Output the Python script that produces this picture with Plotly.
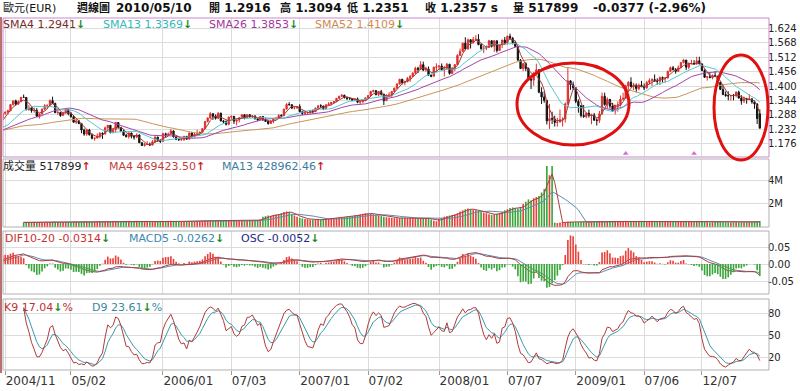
import numpy as np
import pandas as pd
import plotly.graph_objects as go

# ---------------- data ----------------
# weekly closes before the displayed range (Nov 2003 - Oct 2004), used for the moving averages / MACD
pre_close = [1.1480, 1.1670, 1.1780, 1.1990, 1.2200, 1.2290, 1.2380, 1.2450,
             1.2600, 1.2770, 1.2380, 1.2630, 1.2480, 1.2660, 1.2760, 1.2550, 1.2470,
             1.2240, 1.2280, 1.2390, 1.2170, 1.2080, 1.2140, 1.1970, 1.1850, 1.1970,
             1.1830, 1.1870, 1.2010, 1.2200, 1.2280, 1.2120, 1.2100, 1.2140,
             1.2320, 1.2390, 1.2410, 1.2190, 1.2030, 1.2300, 1.2380, 1.2320, 1.2050,
             1.2080, 1.2250, 1.2170, 1.2260, 1.2410, 1.2420, 1.2410, 1.2540, 1.2750]

first_week = "2004-11-01"

week_open = [
    1.2750, 1.2935, 1.2978, 1.3035, 1.3275, 1.3420, 1.3290, 1.3390, 1.3560,
    1.3554, 1.3080, 1.3140, 1.3040, 1.3050, 1.2820, 1.2920, 1.3100, 1.3240, 1.3250, 1.3430, 1.3320,
    1.2960, 1.2970, 1.2850, 1.2960, 1.3080, 1.2920, 1.2800, 1.2590, 1.2640, 1.2540, 1.2285, 1.2130,
    1.2290, 1.2100, 1.1960, 1.1970, 1.2050, 1.2160, 1.2130, 1.2370, 1.2470, 1.2190, 1.2300, 1.2580,
    1.2390, 1.2230, 1.2080, 1.2030, 1.2170, 1.2040, 1.2010, 1.2090, 1.1790, 1.1680, 1.1720, 1.1730,
    1.1700, 1.1830, 1.2010, 1.1880,
    1.1840, 1.2140, 1.2110, 1.2120, 1.2250, 1.2020, 1.1920, 1.1910, 1.1920, 1.2040, 1.1930, 1.2170,
    1.2030, 1.2120, 1.2150, 1.2200, 1.2340, 1.2620, 1.2750, 1.2920, 1.2820, 1.2740, 1.2940, 1.2640,
    1.2610, 1.2510, 1.2790, 1.2820, 1.2630, 1.2680, 1.2760, 1.2880, 1.2760, 1.2880, 1.2800, 1.2830,
    1.2720, 1.2680, 1.2810, 1.2680, 1.2620, 1.2540, 1.2640, 1.2730, 1.2750, 1.2850, 1.2840, 1.3100,
    1.3280, 1.3270, 1.3140, 1.3150,
    1.3200, 1.3000, 1.2930, 1.2960, 1.2970, 1.3030, 1.3000, 1.3140, 1.3230, 1.3220, 1.3120, 1.3270,
    1.3300, 1.3360, 1.3390, 1.3520, 1.3600, 1.3640, 1.3540, 1.3520, 1.3510, 1.3440, 1.3500, 1.3370,
    1.3390, 1.3430, 1.3540, 1.3630, 1.3790, 1.3820, 1.3660, 1.3780, 1.3680, 1.3430, 1.3640, 1.3650,
    1.3790, 1.3920, 1.4080, 1.4260, 1.4130, 1.4170, 1.4300, 1.4380, 1.4500, 1.4690, 1.4650, 1.4830,
    1.4620, 1.4660, 1.4420, 1.4380,
    1.4730, 1.4750, 1.4780, 1.4630, 1.4670, 1.4850, 1.4490, 1.4670, 1.4830, 1.5190, 1.5350, 1.5670,
    1.5440, 1.5800, 1.5700, 1.5810, 1.5820, 1.5610, 1.5450, 1.5470, 1.5500, 1.5760, 1.5550, 1.5760,
    1.5380, 1.5610, 1.5790, 1.5690, 1.5940, 1.5860, 1.5690, 1.5540, 1.5010, 1.4680, 1.4870, 1.4680,
    1.4270, 1.4230, 1.4510, 1.4630, 1.3760, 1.3570, 1.3440, 1.2640, 1.2730, 1.2710, 1.2580, 1.2600,
    1.2690, 1.2710, 1.3300, 1.4200, 1.4050,
    1.3930, 1.3400, 1.3230, 1.2850, 1.2810, 1.2940, 1.2850, 1.2870, 1.2670, 1.2660, 1.2920, 1.3600,
    1.3280, 1.3480, 1.3220, 1.3030, 1.3250, 1.3270, 1.3490, 1.3520, 1.4000, 1.4150, 1.3970, 1.4030,
    1.3900, 1.4030, 1.3970, 1.3930, 1.4140, 1.4210, 1.4250, 1.4190, 1.4185, 1.4330, 1.4300, 1.4310,
    1.4570, 1.4710, 1.4640, 1.4570, 1.4710, 1.4910, 1.5010, 1.4730, 1.4860, 1.4880, 1.4860, 1.4980,
    1.4860, 1.4600, 1.4340, 1.4360,
    1.4330, 1.4410, 1.4380, 1.4140, 1.3865, 1.3670, 1.3625, 1.3615, 1.3630, 1.3625, 1.3760, 1.3530,
    1.3415, 1.3500, 1.3475, 1.3500, 1.3380, 1.3295, 1.2916]

week_high = [
    1.2980, 1.3000, 1.3075, 1.3295, 1.3430, 1.3470, 1.3440, 1.3570, 1.3667,
    1.3570, 1.3260, 1.3170, 1.3160, 1.3140, 1.2925, 1.3120, 1.3290, 1.3270, 1.3480, 1.3585, 1.3350,
    1.3080, 1.2990, 1.3000, 1.3100, 1.3100, 1.2990, 1.2870, 1.2710, 1.2670, 1.2560, 1.2340, 1.2320,
    1.2330, 1.2160, 1.2000, 1.2150, 1.2200, 1.2190, 1.2420, 1.2480, 1.2480, 1.2340, 1.2590, 1.2585,
    1.2400, 1.2290, 1.2130, 1.2190, 1.2180, 1.2080, 1.2160, 1.2110, 1.1820, 1.1780, 1.1850, 1.1800,
    1.1890, 1.2040, 1.2020, 1.1920,
    1.2180, 1.2180, 1.2190, 1.2320, 1.2260, 1.2040, 1.1960, 1.1970, 1.2050, 1.2050, 1.2190, 1.2200,
    1.2180, 1.2300, 1.2230, 1.2360, 1.2640, 1.2780, 1.2980, 1.2940, 1.2890, 1.2980, 1.2960, 1.2680,
    1.2660, 1.2800, 1.2840, 1.2830, 1.2700, 1.2790, 1.2890, 1.2900, 1.2900, 1.2900, 1.2870, 1.2860,
    1.2760, 1.2830, 1.2820, 1.2750, 1.2630, 1.2660, 1.2760, 1.2780, 1.2900, 1.2900, 1.3110, 1.3330,
    1.3370, 1.3290, 1.3200, 1.3220,
    1.3290, 1.3040, 1.3000, 1.3000, 1.3060, 1.3080, 1.3160, 1.3240, 1.3290, 1.3230, 1.3280, 1.3370,
    1.3380, 1.3410, 1.3530, 1.3620, 1.3680, 1.3660, 1.3580, 1.3570, 1.3520, 1.3510, 1.3550, 1.3400,
    1.3450, 1.3550, 1.3640, 1.3800, 1.3850, 1.3840, 1.3800, 1.3850, 1.3700, 1.3670, 1.3760, 1.3800,
    1.3930, 1.4100, 1.4280, 1.4280, 1.4210, 1.4350, 1.4420, 1.4530, 1.4750, 1.4750, 1.4970, 1.4950,
    1.4750, 1.4760, 1.4450, 1.4750,
    1.4880, 1.4800, 1.4880, 1.4780, 1.4900, 1.4860, 1.4740, 1.4850, 1.5240, 1.5460, 1.5680, 1.5900,
    1.5850, 1.5830, 1.5910, 1.5980, 1.6020, 1.5660, 1.5560, 1.5580, 1.5800, 1.5790, 1.5790, 1.5770,
    1.5620, 1.5800, 1.5910, 1.5960, 1.6040, 1.5910, 1.5760, 1.5570, 1.5050, 1.4900, 1.4930, 1.4720,
    1.4330, 1.4530, 1.4870, 1.4650, 1.3950, 1.3800, 1.3450, 1.3300, 1.3000, 1.2840, 1.2760, 1.3080,
    1.2780, 1.3360, 1.4720, 1.4220, 1.4170,
    1.3950, 1.3480, 1.3260, 1.3260, 1.2960, 1.3080, 1.2920, 1.2950, 1.2740, 1.3030, 1.3740, 1.3740,
    1.3560, 1.3490, 1.3340, 1.3260, 1.3400, 1.3630, 1.3740, 1.4050, 1.4180, 1.4340, 1.4120, 1.4100,
    1.4100, 1.4200, 1.4100, 1.4200, 1.4300, 1.4300, 1.4450, 1.4300, 1.4370, 1.4370, 1.4350, 1.4600,
    1.4760, 1.4780, 1.4700, 1.4800, 1.4930, 1.5060, 1.5020, 1.4920, 1.5020, 1.5010, 1.5140, 1.5140,
    1.4880, 1.4650, 1.4380, 1.4510,
    1.4450, 1.4580, 1.4400, 1.4170, 1.4030, 1.3790, 1.3790, 1.3650, 1.3690, 1.3790, 1.3820, 1.3640,
    1.3580, 1.3540, 1.3690, 1.3520, 1.3440, 1.3330, 1.3094]

week_low = [
    1.2720, 1.2880, 1.2900, 1.3020, 1.3240, 1.3230, 1.3270, 1.3370, 1.3540,
    1.3050, 1.3040, 1.2960, 1.2960, 1.2810, 1.2730, 1.2880, 1.3050, 1.3100, 1.3230, 1.3300, 1.2955,
    1.2880, 1.2800, 1.2840, 1.2920, 1.2860, 1.2770, 1.2580, 1.2520, 1.2510, 1.2160, 1.2060, 1.2060,
    1.2070, 1.1920, 1.1870, 1.1960, 1.1960, 1.1940, 1.2120, 1.2300, 1.2150, 1.2150, 1.2200, 1.2340,
    1.2200, 1.2050, 1.1990, 1.1950, 1.1960, 1.1910, 1.1970, 1.1780, 1.1670, 1.1640, 1.1700, 1.1660,
    1.1690, 1.1790, 1.1820, 1.1780,
    1.1830, 1.2000, 1.2050, 1.2110, 1.1990, 1.1890, 1.1860, 1.1860, 1.1860, 1.1900, 1.1920, 1.1990,
    1.1990, 1.2070, 1.2080, 1.2190, 1.2320, 1.2580, 1.2730, 1.2680, 1.2690, 1.2730, 1.2620, 1.2520,
    1.2460, 1.2470, 1.2720, 1.2520, 1.2470, 1.2580, 1.2740, 1.2700, 1.2750, 1.2770, 1.2760, 1.2700,
    1.2630, 1.2650, 1.2640, 1.2600, 1.2490, 1.2520, 1.2550, 1.2680, 1.2710, 1.2790, 1.2830, 1.3100,
    1.3240, 1.3100, 1.3090, 1.3110,
    1.2980, 1.2870, 1.2870, 1.2880, 1.2900, 1.2930, 1.2980, 1.3100, 1.3150, 1.3060, 1.3110, 1.3260,
    1.3250, 1.3310, 1.3370, 1.3500, 1.3570, 1.3520, 1.3450, 1.3460, 1.3410, 1.3400, 1.3330, 1.3270,
    1.3330, 1.3410, 1.3510, 1.3600, 1.3750, 1.3640, 1.3600, 1.3630, 1.3260, 1.3410, 1.3570, 1.3580,
    1.3780, 1.3870, 1.4060, 1.4060, 1.4030, 1.4140, 1.4160, 1.4360, 1.4490, 1.4500, 1.4620, 1.4580,
    1.4560, 1.4410, 1.4340, 1.4370,
    1.4560, 1.4620, 1.4580, 1.4370, 1.4630, 1.4440, 1.4480, 1.4580, 1.4820, 1.5180, 1.5330, 1.5390,
    1.5420, 1.5460, 1.5650, 1.5760, 1.5590, 1.5420, 1.5280, 1.5400, 1.5490, 1.5500, 1.5330, 1.5300,
    1.5370, 1.5480, 1.5640, 1.5620, 1.5840, 1.5620, 1.5510, 1.4980, 1.4660, 1.4580, 1.4580, 1.4230,
    1.3880, 1.4010, 1.4490, 1.3720, 1.3300, 1.3350, 1.2500, 1.2330, 1.2520, 1.2420, 1.2420, 1.2580,
    1.2420, 1.2580, 1.3260, 1.3850, 1.3850,
    1.3330, 1.2960, 1.2770, 1.2760, 1.2740, 1.2770, 1.2510, 1.2640, 1.2460, 1.2560, 1.2880, 1.3230,
    1.3110, 1.3120, 1.3010, 1.2890, 1.3000, 1.3200, 1.3450, 1.3510, 1.3780, 1.3960, 1.3840, 1.3750,
    1.3830, 1.3960, 1.3840, 1.3890, 1.4060, 1.4000, 1.4170, 1.4050, 1.4040, 1.4140, 1.4130, 1.4300,
    1.4540, 1.4600, 1.4480, 1.4550, 1.4700, 1.4880, 1.4620, 1.4650, 1.4850, 1.4830, 1.4830, 1.4850,
    1.4580, 1.4320, 1.4210, 1.4300,
    1.4260, 1.4350, 1.4030, 1.3860, 1.3640, 1.3580, 1.3440, 1.3430, 1.3440, 1.3560, 1.3510, 1.3270,
    1.3340, 1.3310, 1.3450, 1.3310, 1.3110, 1.2520, 1.2351]

week_close = [
    1.2935, 1.2978, 1.3035, 1.3275, 1.3420, 1.3290, 1.3390, 1.3560, 1.3554,
    1.3080, 1.3140, 1.3040, 1.3050, 1.2820, 1.2920, 1.3100, 1.3240, 1.3250, 1.3430, 1.3320, 1.2960,
    1.2970, 1.2850, 1.2960, 1.3080, 1.2920, 1.2800, 1.2590, 1.2640, 1.2540, 1.2285, 1.2130, 1.2290,
    1.2100, 1.1960, 1.1970, 1.2050, 1.2160, 1.2130, 1.2370, 1.2470, 1.2190, 1.2300, 1.2580, 1.2390,
    1.2230, 1.2080, 1.2030, 1.2170, 1.2040, 1.2010, 1.2090, 1.1790, 1.1680, 1.1720, 1.1730, 1.1700,
    1.1830, 1.2010, 1.1880, 1.1840,
    1.2140, 1.2110, 1.2120, 1.2250, 1.2020, 1.1920, 1.1910, 1.1920, 1.2040, 1.1930, 1.2170, 1.2030,
    1.2120, 1.2150, 1.2200, 1.2340, 1.2620, 1.2750, 1.2920, 1.2820, 1.2740, 1.2940, 1.2640, 1.2610,
    1.2510, 1.2790, 1.2820, 1.2630, 1.2680, 1.2760, 1.2880, 1.2760, 1.2880, 1.2800, 1.2830, 1.2720,
    1.2680, 1.2810, 1.2680, 1.2620, 1.2540, 1.2640, 1.2730, 1.2750, 1.2850, 1.2840, 1.3100, 1.3280,
    1.3270, 1.3140, 1.3150, 1.3200,
    1.3000, 1.2930, 1.2960, 1.2970, 1.3030, 1.3000, 1.3140, 1.3230, 1.3220, 1.3120, 1.3270, 1.3300,
    1.3360, 1.3390, 1.3520, 1.3600, 1.3640, 1.3540, 1.3520, 1.3510, 1.3440, 1.3500, 1.3370, 1.3390,
    1.3430, 1.3540, 1.3630, 1.3790, 1.3820, 1.3660, 1.3780, 1.3680, 1.3430, 1.3640, 1.3650, 1.3790,
    1.3920, 1.4080, 1.4260, 1.4130, 1.4170, 1.4300, 1.4380, 1.4500, 1.4690, 1.4650, 1.4830, 1.4620,
    1.4660, 1.4420, 1.4380, 1.4730,
    1.4750, 1.4780, 1.4630, 1.4670, 1.4850, 1.4490, 1.4670, 1.4830, 1.5190, 1.5350, 1.5670, 1.5440,
    1.5800, 1.5700, 1.5810, 1.5820, 1.5610, 1.5450, 1.5470, 1.5500, 1.5760, 1.5550, 1.5760, 1.5380,
    1.5610, 1.5790, 1.5690, 1.5940, 1.5860, 1.5690, 1.5540, 1.5010, 1.4680, 1.4870, 1.4680, 1.4270,
    1.4230, 1.4510, 1.4630, 1.3760, 1.3570, 1.3440, 1.2640, 1.2730, 1.2710, 1.2580, 1.2600, 1.2690,
    1.2710, 1.3300, 1.4200, 1.4050, 1.3930,
    1.3400, 1.3230, 1.2850, 1.2810, 1.2940, 1.2850, 1.2870, 1.2670, 1.2660, 1.2920, 1.3600, 1.3280,
    1.3480, 1.3220, 1.3030, 1.3250, 1.3270, 1.3490, 1.3520, 1.4000, 1.4150, 1.3970, 1.4030, 1.3900,
    1.4030, 1.3970, 1.3930, 1.4140, 1.4210, 1.4250, 1.4190, 1.4185, 1.4330, 1.4300, 1.4310, 1.4570,
    1.4710, 1.4640, 1.4570, 1.4710, 1.4910, 1.5010, 1.4730, 1.4860, 1.4880, 1.4860, 1.4980, 1.4860,
    1.4600, 1.4340, 1.4360, 1.4330,
    1.4410, 1.4380, 1.4140, 1.3865, 1.3670, 1.3625, 1.3615, 1.3630, 1.3625, 1.3760, 1.3530, 1.3415,
    1.3500, 1.3475, 1.3500, 1.3380, 1.3295, 1.2734, 1.2357]

# weekly volume in thousands (no volume data for the first 8 weeks)
volume_k = [
    None, None, None, None, None, None, None, None,
    400, 420, 410, 395, 405, 430, 415, 400, 425, 440, 410, 450, 460,
    430, 415, 405, 420, 435, 445, 460, 470, 455, 480, 490, 470,
    465, 450, 440, 455, 470, 480, 460, 445, 470, 490, 475, 460,
    450, 440, 455, 465, 470, 460, 480, 495, 505, 490, 470, 460,
    455, 470, 450, 440,
    460, 470, 480, 475, 490, 500, 485, 470, 480, 495, 505, 490,
    500, 510, 520, 540, 560, 550, 530, 520, 515, 530, 540, 525,
    510, 520, 530, 540, 545, 530, 520, 510, 525, 540, 560, 580, 600,
    650, 900, 950, 1000, 980, 1050, 1080, 1100, 1200, 1300, 1350, 1300, 1150, 1000, 900,
    800, 750, 700, 680, 650, 640, 620, 600, 650, 700, 720, 700, 740,
    760, 780, 800, 820, 850, 880, 900, 950, 1000, 1050, 1100, 1150,
    1200, 1180, 1150, 1100, 1050, 1000, 950, 900, 850, 820, 800, 780, 760,
    780, 800, 790, 770, 780, 760, 750, 770, 780, 760, 740, 720, 650, 550, 500,
    700, 800, 900, 950, 1000, 1050, 1100, 1200,
    1350, 1450, 1550, 1600, 1550, 1500, 1450,
    1400, 1300, 1250, 1200, 1100, 1050, 1100, 1150, 1200, 1300,
    1450, 1550, 1650, 1700, 1650, 1600, 1700,
    2000, 2200, 2400, 2300, 2500, 2600,
    2700, 3000, 3300,
    5300, 4500, 5300,
    380, 350, 400,
    420, 430, 450, 460, 440, 430, 445, 455, 465, 470, 460, 450,
    455, 470, 480, 490, 475, 460, 470, 480, 465, 455, 460, 470,
    480, 490, 475, 465, 470, 460, 455, 465, 470, 480, 475, 470,
    465, 470, 480, 485, 475, 470, 465, 455, 460, 470, 480, 475,
    470, 460, 455, 465, 470, 460, 440, 420, 400, 410, 430, 440,
    420, 410, 405,
    400, 395, 410, 420, 405, 415, 412, 418, 423.8, 430.5, 455.2, 474.1, 517.899]

event_weeks = ["2009-05-18", "2009-11-16"]

tick_dates = ["2004-11-08", "2005-05-02", "2006-01-02", "2006-07-03", "2007-01-01", "2007-07-02",
              "2008-01-07", "2008-07-07", "2009-01-05", "2009-07-06", "2009-12-07"]
tick_labels = ["2004/11", "05/02", "2006/01", "07/03", "2007/01", "07/02",
               "2008/01", "07/07", "2009/01", "07/06", "12/07"]

price_ticks = [1.176, 1.232, 1.288, 1.344, 1.400, 1.456, 1.512, 1.568, 1.624]
vol_ticks = [2e6, 4e6]
vol_tick_labels = ["2M", "4M"]
macd_ticks = [-0.05, 0.0, 0.05]
macd_tick_labels = ["-0.05", "0.00", "0.05"]
kd_ticks = [20, 50, 80]

# ---------------- indicators ----------------
N = len(week_close)
assert all(len(a) == N for a in (week_open, week_high, week_low, volume_k)), \
    [len(a) for a in (week_open, week_high, week_low, week_close, volume_k)]
dates = pd.date_range(first_week, periods=N, freq="7D")

o = np.array(week_open); h = np.array(week_high); l = np.array(week_low); c = np.array(week_close)
full_close = pd.Series(pre_close + week_close)


def sma(n):
    return full_close.rolling(n).mean().values[-N:]


ema10 = full_close.ewm(span=10, adjust=False).mean()
ema20 = full_close.ewm(span=20, adjust=False).mean()
dif_full = ema10 - ema20
macd_full = dif_full.ewm(span=5, adjust=False).mean()
dif = dif_full.values[-N:]
macd5 = macd_full.values[-N:]
osc = dif - macd5

K = np.full(N, np.nan); D = np.full(N, np.nan)
for j in range(8, N):
    hh = h[j - 8:j + 1].max(); ll = l[j - 8:j + 1].min()
    rsv = (c[j] - ll) / (hh - ll) * 100
    if j == 8:
        K[j] = rsv; D[j] = rsv
    else:
        K[j] = K[j - 1] * 2 / 3 + rsv / 3
        D[j] = D[j - 1] * 2 / 3 + K[j] / 3

vol = pd.Series([np.nan if v is None else v * 1000 for v in volume_k])
vol_ma4 = vol.rolling(4, min_periods=1).mean()
vol_ma13 = vol.rolling(13, min_periods=1).mean()

up = c >= o
RED = "#e8403a"; GREEN = "#3aa63a"

# ---------------- figure ----------------
fig = go.Figure()

fig.add_trace(go.Candlestick(
    x=dates, open=o, high=h, low=l, close=c, xaxis="x", yaxis="y",
    increasing=dict(line=dict(color="#e0302a", width=1), fillcolor="#e0302a"),
    decreasing=dict(line=dict(color="#111111", width=1), fillcolor="#111111"),
    whiskerwidth=0, showlegend=False, hoverinfo="skip"))

for n, col in [(52, "#c99658"), (26, "#a444aa"), (13, "#55c8d0"), (4, "#a33c3c")]:
    fig.add_trace(go.Scatter(x=dates, y=sma(n), mode="lines", xaxis="x", yaxis="y",
                             line=dict(color=col, width=1), hoverinfo="skip"))

fig.add_trace(go.Scatter(x=pd.to_datetime(event_weeks), y=[1.137] * len(event_weeks),
                         mode="markers", xaxis="x", yaxis="y",
                         marker=dict(symbol="triangle-up", size=5, color="#d070d0"),
                         hoverinfo="skip"))

bar_w = 7 * 86400000 * 0.62
fig.add_trace(go.Bar(x=dates, y=vol, xaxis="x2", yaxis="y2", width=bar_w,
                     marker=dict(color=[RED if u else GREEN for u in up], line=dict(width=0)),
                     hoverinfo="skip"))
fig.add_trace(go.Scatter(x=dates, y=vol_ma13, mode="lines", xaxis="x2", yaxis="y2",
                         line=dict(color="#5b8db5", width=1), hoverinfo="skip"))
fig.add_trace(go.Scatter(x=dates, y=vol_ma4, mode="lines", xaxis="x2", yaxis="y2",
                         line=dict(color="#a84040", width=1), hoverinfo="skip"))

fig.add_trace(go.Bar(x=dates, y=osc, xaxis="x3", yaxis="y5", width=bar_w,
                     marker=dict(color=[RED if v >= 0 else GREEN for v in osc], line=dict(width=0)),
                     hoverinfo="skip"))
fig.add_trace(go.Scatter(x=dates, y=macd5, mode="lines", xaxis="x3", yaxis="y3",
                         line=dict(color="#5b8db5", width=1), hoverinfo="skip"))
fig.add_trace(go.Scatter(x=dates, y=dif, mode="lines", xaxis="x3", yaxis="y3",
                         line=dict(color="#b03a3a", width=1), hoverinfo="skip"))

fig.add_trace(go.Scatter(x=dates, y=D, mode="lines", xaxis="x4", yaxis="y4",
                         line=dict(color="#3a9aaa", width=1), hoverinfo="skip"))
fig.add_trace(go.Scatter(x=dates, y=K, mode="lines", xaxis="x4", yaxis="y4",
                         line=dict(color="#b03a3a", width=1), hoverinfo="skip"))

W, H = 800, 391


def py(p):
    return 1 - p / H


x_start = dates[0] + pd.Timedelta(days=7 * 0.15)
x_end = dates[0] + pd.Timedelta(days=7 * 291.5)
GRID = "#dcdcdc"
xdom = [3 / W, 769 / W]

xbase = dict(type="date", domain=xdom, range=[x_start, x_end], tickmode="array",
             tickvals=pd.to_datetime(tick_dates), ticktext=tick_labels, showgrid=True,
             gridcolor=GRID, gridwidth=1, zeroline=False, showline=False,
             rangeslider=dict(visible=False), fixedrange=True)

layout = dict(
    width=W, height=H, margin=dict(l=0, r=0, t=0, b=0, pad=0),
    paper_bgcolor="white", plot_bgcolor="white", showlegend=False, hovermode=False,
    font=dict(family="DejaVu Sans, Noto Sans CJK TC", size=12, color="#222222"),
    barmode="overlay",
    xaxis=dict(xbase, anchor="y", showticklabels=False),
    xaxis2=dict(xbase, anchor="y2", matches="x", showticklabels=False),
    xaxis3=dict(xbase, anchor="y3", matches="x", showticklabels=False),
    xaxis4=dict(xbase, anchor="y4", matches="x", showticklabels=True, ticks="outside",
                ticklen=4, tickcolor="#999999", ticklabelposition="outside right",
                tickfont=dict(size=12, color="#333333")),
)

ybase = dict(side="right", showgrid=True, gridcolor=GRID, zeroline=False, showline=False,
             tickmode="array", tickfont=dict(size=10, color="#222222"), fixedrange=True,
             ticklabelstandoff=-2)
layout["yaxis"] = dict(ybase, anchor="x", domain=[py(157), py(18)], range=[1.1234, 1.6649],
                       tickvals=price_ticks, ticktext=[f"{v:.3f}" for v in price_ticks])
layout["yaxis2"] = dict(ybase, anchor="x2", domain=[py(227), py(159)], range=[0, 5.91e6],
                        tickvals=vol_ticks, ticktext=vol_tick_labels)
macd_range = [-0.088, 0.097]
layout["yaxis3"] = dict(ybase, anchor="x3", domain=[py(294), py(231)], range=macd_range,
                        tickvals=macd_ticks, ticktext=macd_tick_labels)
osc_scale = 5.5
layout["yaxis5"] = dict(overlaying="y3", anchor="x3", visible=False, fixedrange=True,
                        range=[macd_range[0] / osc_scale, macd_range[1] / osc_scale])
layout["yaxis4"] = dict(ybase, anchor="x4", domain=[py(370), py(299)], range=[3, 100],
                        tickvals=kd_ticks, ticktext=[str(v) for v in kd_ticks])

# panel frames, red highlight ellipses
shapes = []


def rect(x0, y0, x1, y1, color, width=1):
    shapes.append(dict(type="rect", xref="paper", yref="paper", x0=x0 / W, x1=x1 / W,
                       y0=py(y1), y1=py(y0), line=dict(color=color, width=width), layer="above"))


rect(3, 18, 769, 157, "#cc88cc")
rect(3, 159, 769, 227, "#b0b0b0")
rect(3, 231, 769, 294, "#b0b0b0")
rect(3, 299, 769, 370, "#b0b0b0")
shapes.append(dict(type="line", xref="paper", yref="paper", x0=1 / W, x1=1 / W, y0=py(373), y1=py(17),
                   line=dict(color="#b87070", width=2)))
for (x0, y0, x1, y1) in [(517, 63, 629, 145), (714, 55, 768, 160)]:
    shapes.append(dict(type="circle", xref="paper", yref="paper", x0=x0 / W, x1=x1 / W,
                       y0=py(y1), y1=py(y0), line=dict(color="#e01010", width=3), layer="above"))
layout["shapes"] = shapes

ann = []


def txt(px, pyy, text, size=11, color="#222222"):
    ann.append(dict(xref="paper", yref="paper", x=(px - 2) / W, y=py(pyy), xanchor="left",
                    yanchor="middle", text=text, showarrow=False,
                    font=dict(size=size, color=color, family="DejaVu Sans, Noto Sans CJK TC")))


DOWN = "<b><span style='color:#1e8c1e'>↓</span></b>"
UPA = "<b><span style='color:#d02020'>↑</span></b>"


def sp(t, col):
    return f"<span style='color:{col}'>{t}</span>"


def cjk(t):
    return f"<span style='font-size:11px'>{t}</span>"


# header
txt(3, 8, cjk("歐元") + "<span style='font-size:11px'>(EUR)</span>", 12, "#111111")
txt(77, 8, "<b>" + cjk("週線圖") + "</b>", 12, "#111111")
txt(116, 8, "<b>2010/05/10</b>", 12, "#111111")
txt(209, 8, "<b>" + cjk("開") + " 1.2916</b>", 12, "#111111")
txt(280, 8, "<b>" + cjk("高") + " 1.3094</b>", 12, "#111111")
txt(347, 8, "<b>" + cjk("低") + " 1.2351</b>", 12, "#111111")
txt(425, 8, "<b>" + cjk("收") + " 1.2357 s</b>", 12, "#111111")
txt(513, 8, "<b>" + cjk("量") + " 517899</b>", 12, "#111111")
txt(593, 8, "<b>-0.0377 (-2.96%)</b>", 12, "#111111")

# panel legends
txt(3, 25, sp("SMA4 1.2941", "#7a2a2a") + DOWN)
txt(103, 25, sp("SMA13 1.3369", "#33b8bb") + DOWN)
txt(209, 25, sp("SMA26 1.3853", "#a3359a") + DOWN)
txt(315, 25, sp("SMA52 1.4109", "#cf8a50") + DOWN)

txt(3, 166, sp("成交量 517899", "#222222") + UPA)
txt(109, 166, sp("MA4 469423.50", "#c43c3c") + UPA)
txt(222, 166, sp("MA13 428962.46", "#3c7c9c") + UPA)

txt(5, 238, sp("DIF10-20 -0.0314", "#c83232") + DOWN)
txt(129, 238, sp("MACD5 -0.0262", "#3a88b0") + DOWN)
txt(241, 238, sp("OSC -0.0052", "#1c2a84") + DOWN)

txt(4, 307, sp("K9 17.04", "#c03030") + DOWN + sp("%", "#c03030"))
txt(92, 307, sp("D9 23.61", "#3a8aa0") + DOWN + sp("%", "#3a8aa0"))

layout["annotations"] = ann
fig.update_layout(layout)
fig.write_html("out.html", config={"displayModeBar": False, "staticPlot": True},
               post_script="document.body.style.margin='0px';document.body.style.padding='0px';")
